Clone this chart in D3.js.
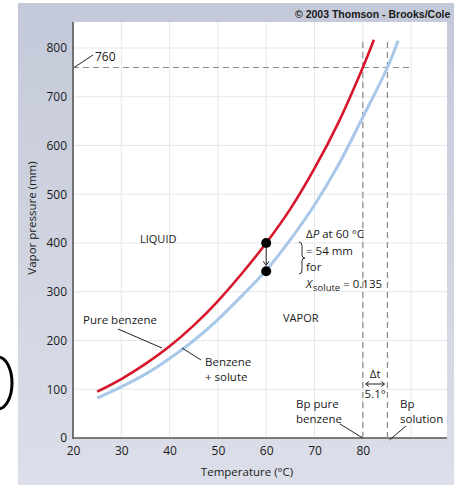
<!DOCTYPE html>
<html><head><meta charset="utf-8">
<script src="https://cdn.jsdelivr.net/npm/d3@7"></script>
<style>
html,body{margin:0;padding:0;background:#fff;}
svg{display:block;}
text{font-family:"Open Sans","Noto Sans",sans-serif;fill:#1a1a1a;}
</style></head>
<body>
<svg id="chart" width="454" height="485"></svg>
<script>
// ---- data ----
const pureTemps   = [25, 30, 35, 40, 45, 50, 55, 60, 65, 70, 75, 80, 82.3];
const purePress   = [95, 121, 152, 188, 231, 281, 338, 400, 470, 553, 648, 760, 817];
const solnTemps   = [25, 30, 35, 40, 45, 50, 55, 60, 65, 70, 75, 80, 85.1, 87.3];
const solnPress   = [82, 105, 131, 163, 200, 243, 292, 344, 407, 478, 561, 658, 760, 815];
const xTicks      = [20, 30, 40, 50, 60, 70, 80];
const yTicks      = [0, 100, 200, 300, 400, 500, 600, 700, 800];
const xGrid       = [30, 40, 50, 60, 70, 80, 90];
const yGrid       = [100, 200, 300, 400, 500, 600, 700, 800];
const atmPressure = 760;
const bpPure      = 80;
const bpSolution  = 85.1;
const dotTemp     = 60;
const dotPress    = [400, 342];

const svg = d3.select("#chart");
const W = 454, H = 485;
const FONT = "'Open Sans','Noto Sans',sans-serif";

// background panel gradient
const defs = svg.append("defs");
const grad = defs.append("linearGradient").attr("id","bg").attr("x1",0).attr("y1",0).attr("x2",0).attr("y2",1);
grad.append("stop").attr("offset","0%").attr("stop-color","#c4c9d9");
grad.append("stop").attr("offset","100%").attr("stop-color","#dcdfe9");
svg.append("rect").attr("x",18).attr("y",3).attr("width",W-18).attr("height",H-3).attr("fill","url(#bg)");

// partial letter arc at far left
svg.append("path").attr("d","M -2 357 A 14 26 0 0 1 -2 409")
  .attr("fill","none").attr("stroke","#000").attr("stroke-width",3);

const pL = 73, pR = 447, pT = 22, pB = 438;
const x = d3.scaleLinear().domain([20, 20 + (pR-pL)/4.83]).range([pL, pR]);
const y = d3.scaleLinear().domain([0, 800]).range([pB, 48]);

// plot area
svg.append("rect").attr("x",pL).attr("y",pT).attr("width",pR-pL).attr("height",pB-pT).attr("fill","#fff");

// grid
const g = svg.append("g");
g.selectAll(".vg").data(xGrid).join("line")
  .attr("x1",d=>x(d)).attr("x2",d=>x(d)).attr("y1",pT).attr("y2",pB)
  .attr("stroke","#e6e7ec").attr("stroke-width",1);
g.selectAll(".hg").data(yGrid).join("line")
  .attr("x1",pL).attr("x2",pR).attr("y1",d=>y(d)).attr("y2",d=>y(d))
  .attr("stroke","#e6e7ec").attr("stroke-width",1);

// axes
const xAxis = d3.axisBottom(x).tickValues(xTicks).tickSize(0).tickPadding(8).tickFormat(d3.format("d"));
const yAxis = d3.axisLeft(y).tickValues(yTicks).tickSize(0).tickPadding(6).tickFormat(d3.format("d"));
const gx = svg.append("g").attr("transform",`translate(0,${pB})`).call(xAxis);
const gy = svg.append("g").attr("transform",`translate(${pL},0)`).call(yAxis);
[gx,gy].forEach(a=>{
  a.select(".domain").remove();
  a.selectAll("text").attr("font-size",12).attr("fill","#1a1a1a").style("font-family",FONT);
});
svg.append("line").attr("x1",pL).attr("x2",pL).attr("y1",pT).attr("y2",pB+1).attr("stroke","#555").attr("stroke-width",1.6);
svg.append("line").attr("x1",pL).attr("x2",pR).attr("y1",pB).attr("y2",pB).attr("stroke","#555").attr("stroke-width",1.6);

// axis titles
svg.append("text").attr("x",247).attr("y",476).attr("text-anchor","middle").attr("font-size",11.5).text("Temperature (°C)");
svg.append("text").attr("transform","translate(36,218) rotate(-90)").attr("text-anchor","middle").attr("font-size",11.5).text("Vapor pressure (mm)");

// copyright
svg.append("text").attr("x",295).attr("y",18).attr("font-size",10.5).attr("font-weight","bold")
  .style("font-family","'Liberation Sans',Arial,sans-serif").text("© 2003 Thomson - Brooks/Cole");

// dashed reference lines
const dash = "6,4";
svg.append("line").attr("x1",pL).attr("x2",x(90)).attr("y1",y(atmPressure)).attr("y2",y(atmPressure))
  .attr("stroke","#8a8a8a").attr("stroke-width",1.2).attr("stroke-dasharray",dash);
[bpPure,bpSolution].forEach(t=>{
  svg.append("line").attr("x1",x(t)).attr("x2",x(t)).attr("y1",42).attr("y2",pB)
    .attr("stroke","#8a8a8a").attr("stroke-width",1.2).attr("stroke-dasharray",dash);
});

// curves
const line = d3.line().x(d=>x(d[0])).y(d=>y(d[1])).curve(d3.curveCatmullRom.alpha(0.5));
svg.append("path").datum(solnTemps.map((t,i)=>[t,solnPress[i]])).attr("d",line)
  .attr("fill","none").attr("stroke","#a8c8ea").attr("stroke-width",3);
svg.append("path").datum(pureTemps.map((t,i)=>[t,purePress[i]])).attr("d",line)
  .attr("fill","none").attr("stroke","#d7152b").attr("stroke-width",2.6);

// 760 label
svg.append("line").attr("x1",pL+1).attr("y1",y(atmPressure)).attr("x2",93).attr("y2",55).attr("stroke","#222").attr("stroke-width",1);
svg.append("text").attr("x",95).attr("y",61).attr("font-size",12).text("760");

// dots & arrow
svg.append("line").attr("x1",x(dotTemp)).attr("x2",x(dotTemp)).attr("y1",y(dotPress[0])+5).attr("y2",y(dotPress[1])-6)
  .attr("stroke","#222").attr("stroke-width",1);
svg.append("path").attr("d",`M ${x(dotTemp)-3} ${y(dotPress[1])-10} L ${x(dotTemp)} ${y(dotPress[1])-6} L ${x(dotTemp)+3} ${y(dotPress[1])-10}`)
  .attr("fill","none").attr("stroke","#222").attr("stroke-width",1);
svg.selectAll(".dot").data(dotPress).join("circle").attr("cx",x(dotTemp)).attr("cy",d=>y(d)).attr("r",5).attr("fill","#000");

// region labels
svg.append("text").attr("x",140).attr("y",243).attr("font-size",11).text("LIQUID");
svg.append("text").attr("x",283).attr("y",322).attr("font-size",11).text("VAPOR");

// delta P annotation
const ann = svg.append("g").attr("font-size",11.5);
const t1 = ann.append("text").attr("x",306).attr("y",238);
t1.append("tspan").text("\u0394");
t1.append("tspan").attr("font-style","italic").text("P");
t1.append("tspan").text(" at 60 °C");
ann.append("text").attr("x",306).attr("y",255).text("= 54 mm");
ann.append("text").attr("x",306).attr("y",271).text("for");
const t4 = ann.append("text").attr("x",306).attr("y",288);
t4.append("tspan").attr("font-style","italic").text("X");
t4.append("tspan").attr("font-size",9.5).attr("dy",3).attr("dx",1).text("solute");
t4.append("tspan").attr("dy",-3).text(" = 0.135");
svg.append("path").attr("d","M 299 242 Q 302 242 302 246 L 302 255 Q 302 258 305 258 Q 302 258 302 261 L 302 270 Q 302 274 299 274")
  .attr("fill","none").attr("stroke","#333").attr("stroke-width",1);

// curve labels
svg.append("text").attr("x",83).attr("y",324).attr("font-size",11.5).text("Pure benzene");
svg.append("line").attr("x1",118).attr("y1",329).attr("x2",162).attr("y2",348).attr("stroke","#222").attr("stroke-width",1);
svg.append("text").attr("x",205).attr("y",366).attr("font-size",11.5).text("Benzene");
svg.append("text").attr("x",205).attr("y",381).attr("font-size",11.5).text("+ solute");
svg.append("line").attr("x1",182).attr("y1",348).attr("x2",201).attr("y2",360).attr("stroke","#222").attr("stroke-width",1);

// delta t
svg.append("text").attr("x",x((bpPure+bpSolution)/2)).attr("y",378).attr("text-anchor","middle").attr("font-size",11.5).text("\u0394t");
svg.append("line").attr("x1",x(bpPure)+3).attr("x2",x(bpSolution)-3).attr("y1",384).attr("y2",384).attr("stroke","#222").attr("stroke-width",1);
svg.append("path").attr("d",`M ${x(bpPure)+6} 381.5 L ${x(bpPure)+3} 384 L ${x(bpPure)+6} 386.5 M ${x(bpSolution)-6} 381.5 L ${x(bpSolution)-3} 384 L ${x(bpSolution)-6} 386.5`)
  .attr("fill","none").attr("stroke","#222").attr("stroke-width",1);
svg.append("text").attr("x",x((bpPure+bpSolution)/2)).attr("y",398).attr("text-anchor","middle").attr("font-size",11.5).text("5.1°");

// Bp labels
svg.append("text").attr("x",296).attr("y",408).attr("font-size",11.5).text("Bp pure");
svg.append("text").attr("x",296).attr("y",423).attr("font-size",11.5).text("benzene");
svg.append("line").attr("x1",340).attr("y1",424).attr("x2",x(bpPure)).attr("y2",pB).attr("stroke","#222").attr("stroke-width",1);
svg.append("text").attr("x",400).attr("y",408).attr("font-size",11.5).text("Bp");
svg.append("text").attr("x",400).attr("y",423).attr("font-size",11.5).text("solution");
svg.append("line").attr("x1",406).attr("y1",426).attr("x2",x(bpSolution)+2).attr("y2",pB+2).attr("stroke","#222").attr("stroke-width",1);
</script>
</body></html>
